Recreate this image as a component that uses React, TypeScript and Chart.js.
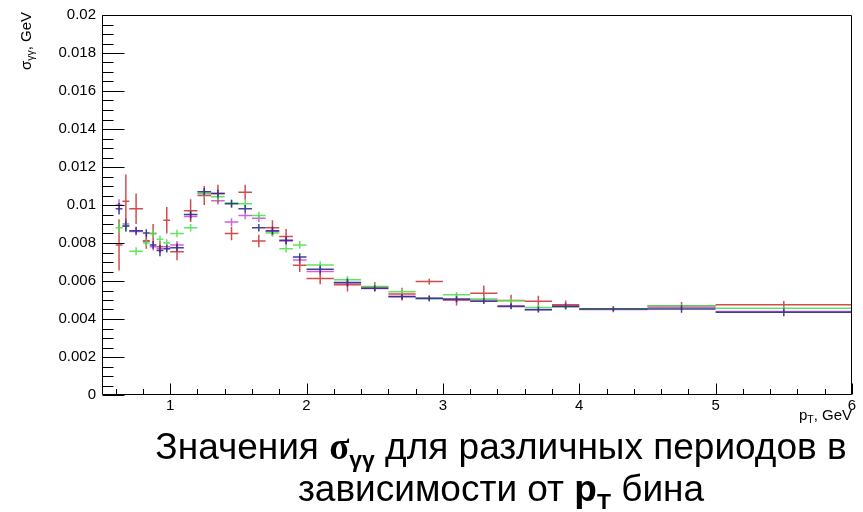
import React, { useEffect, useRef } from "react";
import { Chart, registerables } from "chart.js";

Chart.register(...registerables);

// p_T bin edges (GeV)
const binEdges = [
  0.6, 0.65, 0.7, 0.8, 0.85, 0.9, 0.95, 1.0, 1.1, 1.2, 1.3, 1.4, 1.5, 1.6, 1.7, 1.8, 1.9, 2.0,
  2.2, 2.4, 2.6, 2.8, 3.0, 3.2, 3.4, 3.6, 3.8, 4.0, 4.5, 5.0, 6.0,
];

// sigma_gg values and errors (GeV) per period
const blueValues = [
  0.0098, 0.0089, 0.00865, 0.00853, 0.0079, 0.0076, 0.0077, 0.00775, 0.0095, 0.0107,
  0.0106, 0.01006, 0.0098, 0.0088, 0.00865, 0.00815, 0.00726, 0.00662, 0.00592, 0.00562,
  0.00517, 0.00508, 0.00505, 0.00494, 0.00466, 0.00449, 0.00466, 0.00452, 0.00453, 0.00435,
];
const blueErrors = [
  0.0003, 0.0003, 0.0002, 0.0002, 0.0002, 0.0003, 0.0002, 0.0002, 0.0002, 0.0002,
  0.0002, 0.0002, 0.0002, 0.0002, 0.0002, 0.0002, 0.0002, 0.0002, 0.0002, 0.00015,
  0.00015, 0.00015, 0.00015, 0.00015, 0.00015, 0.00015, 0.00015, 0.0001, 0.0002, 0.0002,
];
const greenValues = [
  0.0088, 0.0089, 0.00757, 0.008, 0.0085, 0.0082, 0.008, 0.0085, 0.0088, 0.0106,
  0.01044, 0.0101, 0.01006, 0.00945, 0.00853, 0.0077, 0.0079, 0.00684, 0.00606, 0.00571,
  0.00543, 0.00508, 0.00527, 0.00505, 0.00496, 0.00461, 0.00465, 0.00453, 0.0047, 0.00456,
];
const greenErrors = [
  0.0003, 0.0003, 0.0002, 0.0002, 0.0002, 0.0002, 0.0002, 0.0002, 0.0002, 0.0002,
  0.0002, 0.0002, 0.0002, 0.0002, 0.0002, 0.0002, 0.0002, 0.0002, 0.0002, 0.00015,
  0.00015, 0.00015, 0.00015, 0.00015, 0.00015, 0.00015, 0.00015, 0.0001, 0.0001, 0.0001,
];
const redValues = [
  0.0079, 0.0102, 0.0098, 0.0081, 0.0085, 0.0078, 0.0092, 0.00754, 0.0097, 0.0105,
  0.0106, 0.0085, 0.01067, 0.0081, 0.0088, 0.00834, 0.00683, 0.00613, 0.0058, 0.0057,
  0.00531, 0.00597, 0.00501, 0.00536, 0.00497, 0.00493, 0.00475, 0.00452, 0.0047, 0.00475,
];
const redErrors = [
  0.00135, 0.0014, 0.0008, 0.0004, 0.0005, 0.0003, 0.0007, 0.00045, 0.0006, 0.0005,
  0.00047, 0.00035, 0.0004, 0.00033, 0.0004, 0.0004, 0.00035, 0.0003, 0.00035, 0.00025,
  0.00033, 0.00015, 0.0003, 0.0004, 0.0003, 0.0003, 0.00023, 0.00017, 0.0002, 0.0002,
];
const magentaValues = [
  0.01, 0.009, 0.0086, 0.0081, 0.0078, 0.0077, 0.0078, 0.0079, 0.0094, 0.0106,
  0.01023, 0.0091, 0.00945, 0.0093, 0.0086, 0.0081, 0.0071, 0.0065, 0.0059, 0.0056,
  0.0052, 0.0051, 0.005, 0.005, 0.0047, 0.0045, 0.0047, 0.0045, 0.0046, 0.0044,
];
const magentaErrors = [
  0.0003, 0.0003, 0.0002, 0.0002, 0.0002, 0.0002, 0.0002, 0.0002, 0.0002, 0.0002,
  0.0002, 0.0002, 0.0002, 0.0002, 0.0002, 0.0002, 0.0002, 0.0002, 0.0002, 0.00015,
  0.00015, 0.00015, 0.00015, 0.00015, 0.00015, 0.00015, 0.00015, 0.0001, 0.0001, 0.0001,
];

const yTickValues = [0, 0.002, 0.004, 0.006, 0.008, 0.01, 0.012, 0.014, 0.016, 0.018, 0.02];
const yTickLabels = ["0", "0.002", "0.004", "0.006", "0.008", "0.01", "0.012", "0.014", "0.016", "0.018", "0.02"];
const xTickValues = [1, 2, 3, 4, 5, 6];
const xTickLabels = ["1", "2", "3", "4", "5", "6"];
const yMinorStep = 0.0005;
const xMinorStep = 0.2;

const FONT = '"Liberation Sans", Arial, Helvetica, sans-serif';

function crossPoints(values: number[], errors: number[]) {
  const pts: { x: number; y: number | null }[] = [];
  for (let i = 0; i < values.length; i++) {
    const lo = binEdges[i];
    const hi = binEdges[i + 1];
    const c = (lo + hi) / 2;
    const v = values[i];
    const e = errors[i];
    pts.push({ x: lo, y: v }, { x: hi, y: v }, { x: hi, y: null });
    pts.push({ x: c, y: v - e }, { x: c, y: v + e }, { x: c, y: null });
  }
  return pts;
}

const rootAxesPlugin = {
  id: "rootAxes",
  afterDatasetsDraw(chart: any) {
    const { ctx, chartArea: a } = chart;
    const xs = chart.scales.x;
    const ys = chart.scales.y;
    const L = Math.round(a.left) + 0.5;
    const R = Math.round(a.right) - 0.5;
    const T = Math.round(a.top) + 0.5;
    const B = Math.round(a.bottom) - 0.5;
    ctx.save();
    ctx.strokeStyle = "#000";
    ctx.lineWidth = 1;
    ctx.beginPath();
    ctx.rect(L, T, R - L, B - T);
    for (let k = 0; k <= 40; k++) {
      const py = Math.round(ys.getPixelForValue(k * yMinorStep)) + 0.5;
      const len = k % 4 === 0 ? 22 : 11;
      ctx.moveTo(L, py);
      ctx.lineTo(L + len, py);
    }
    for (let k = 3; k <= 30; k++) {
      const px = Math.round(xs.getPixelForValue(k * xMinorStep)) + 0.5;
      const len = k % 5 === 0 ? 11 : 5.5;
      ctx.moveTo(px, B);
      ctx.lineTo(px, B - len);
    }
    ctx.stroke();
    ctx.restore();
  },
};

export default function App() {
  const ref = useRef<HTMLCanvasElement | null>(null);
  useEffect(() => {
    if (!ref.current) return;
    const series = [
      { v: blueValues, e: blueErrors, c: "rgba(45,45,140,0.9)" },
      { v: greenValues, e: greenErrors, c: "rgba(80,225,80,0.9)" },
      { v: redValues, e: redErrors, c: "rgba(205,45,45,0.85)" },
      { v: magentaValues, e: magentaErrors, c: "rgba(200,70,215,0.85)" },
    ];
    const chart = new Chart(ref.current, {
      type: "line",
      data: {
        datasets: series.map((s) => ({
          data: crossPoints(s.v, s.e),
          borderColor: s.c,
          backgroundColor: s.c,
          borderWidth: 1.5,
          pointRadius: 0,
          spanGaps: false,
          fill: false,
        })),
      },
      options: {
        responsive: false,
        animation: false,
        devicePixelRatio: 1,
        layout: { padding: { top: 12, right: 11, left: 0, bottom: 0 } },
        plugins: { legend: { display: false }, tooltip: { enabled: false } },
        scales: {
          x: {
            type: "linear",
            min: 0.5,
            max: 6,
            afterBuildTicks: (s: any) => {
              s.ticks = xTickValues.map((v) => ({ value: v }));
            },
            afterFit: (s: any) => {
              s.height = 117;
            },
            ticks: {
              callback: (v: any) => xTickLabels[xTickValues.indexOf(Number(v))] ?? "",
              font: { family: FONT, size: 15 },
              color: "#000",
              padding: 2,
              maxRotation: 0,
              autoSkip: false,
            },
            grid: { display: false, drawTicks: false },
            border: { display: false },
          },
          y: {
            min: 0,
            max: 0.02,
            afterBuildTicks: (s: any) => {
              s.ticks = yTickValues.map((v) => ({ value: v }));
            },
            afterFit: (s: any) => {
              s.width = 102;
            },
            ticks: {
              callback: (v: any) => {
                const i = yTickValues.findIndex((t) => Math.abs(t - Number(v)) < 1e-9);
                return i >= 0 ? yTickLabels[i] : "";
              },
              font: { family: FONT, size: 15 },
              color: "#000",
              padding: 6,
              autoSkip: false,
            },
            grid: { display: false, drawTicks: false },
            border: { display: false },
          },
        },
      },
      plugins: [rootAxesPlugin],
    } as any);
    return () => chart.destroy();
  }, []);

  const sub: React.CSSProperties = { fontSize: "0.62em", position: "relative", top: "0.35em" };

  return (
    <div style={{ position: "absolute", left: 0, top: 0, width: 863, height: 512, background: "#fff", overflow: "hidden" }}>
      <canvas ref={ref} width={863} height={512} style={{ position: "absolute", left: 0, top: 0 }} />
      <div
        style={{
          position: "absolute",
          left: 17,
          top: 132,
          width: 120,
          height: 18,
          transformOrigin: "top left",
          transform: "rotate(-90deg)",
          textAlign: "right",
          fontFamily: FONT,
          fontSize: 15,
          lineHeight: "18px",
          whiteSpace: "nowrap",
          color: "#000",
        }}
      >
        σ<span style={{ fontSize: "0.7em", position: "relative", top: "0.3em" }}>γγ</span>, GeV
      </div>
      <div
        style={{
          position: "absolute",
          right: 11,
          top: 407,
          fontFamily: FONT,
          fontSize: 15,
          lineHeight: "16px",
          whiteSpace: "nowrap",
          color: "#000",
        }}
      >
        p<span style={{ fontSize: "0.7em", position: "relative", top: "0.3em" }}>T</span>, GeV
      </div>
      <div
        style={{
          position: "absolute",
          left: 101,
          top: 428,
          width: 800,
          textAlign: "center",
          fontFamily: FONT,
          fontSize: 37,
          lineHeight: "38px",
          whiteSpace: "nowrap",
          color: "#000",
        }}
      >
        <div>
          Значения{" "}
          <b style={{ fontFamily: '"Liberation Serif", "Times New Roman", serif' }}>σ</b>
          <b style={sub}>γγ</b> для различных периодов в
        </div>
        <div>
          зависимости от <b>p</b>
          <b style={sub}>T</b> бина
        </div>
      </div>
    </div>
  );
}
